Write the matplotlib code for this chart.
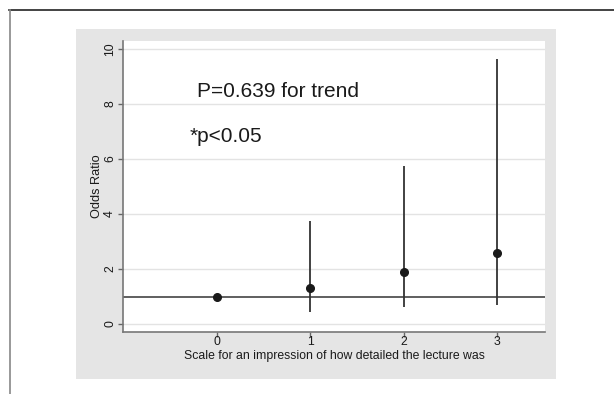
import matplotlib
matplotlib.use("Agg")
import matplotlib.pyplot as plt
from matplotlib.patches import Rectangle
from matplotlib.lines import Line2D

plt.rcParams['font.family'] = ['Liberation Sans', 'DejaVu Sans']

scale = [0, 1, 2, 3]
odds_ratio = [1.0, 1.30, 1.89, 2.58]
ci_low = [1.0, 0.45, 0.63, 0.69]
ci_high = [1.0, 3.76, 5.75, 9.63]
yticks = [0, 2, 4, 6, 8, 10]
xticks = [0, 1, 2, 3]

fig = plt.figure(figsize=(6.14, 3.94), dpi=100)
fig.patch.set_facecolor('white')

# gray Stata-like panel
fig.patches.append(Rectangle((76/614, 1-379/394), 480/614, 350/394,
                             transform=fig.transFigure, facecolor='#e5e5e5',
                             edgecolor='none', zorder=0))
# outer frame lines
fig.lines.append(Line2D([9/614, 1.0], [1-10/394, 1-10/394], transform=fig.transFigure,
                        color='#222222', lw=1.2))
fig.lines.append(Line2D([9.5/614, 9.5/614], [0, 1-10/394], transform=fig.transFigure,
                        color='#888888', lw=1.2))

ax = fig.add_axes([123/614, 1-332/394, 422/614, 291/394])
ax.set_facecolor('white')
ax.set_zorder(1)

ax.set_xlim(-1.0, 3.51)
ax.set_ylim(-0.29, 10.29)

for yv in yticks:
    ax.axhline(yv, color='#e3e3e3', lw=1.0, zorder=1)
ax.axhline(1, color='#444444', lw=1.2, zorder=2)

ax.vlines(scale, ci_low, ci_high, color='#333333', lw=1.3, zorder=3)
ax.plot(scale, odds_ratio, 'o', color='#1a1a1a', ms=5.5, zorder=4)

ax.text(-0.21, 8.44, 'P=0.639 for trend', fontsize=15, va='center', ha='left', color='#1a1a1a')
ax.text(-0.29, 6.8, '*p<0.05', fontsize=15, va='center', ha='left', color='#1a1a1a')

ax.set_xticks(xticks)
ax.set_yticks(yticks)
ax.set_yticklabels([str(v) for v in yticks], rotation=90, va='center')
ax.tick_params(axis='both', colors='#666666', labelcolor='#1a1a1a', labelsize=8.8,
               length=3.5, width=1.0)
ax.tick_params(axis='x', pad=-0.5)
ax.tick_params(axis='y', pad=1.5)
for s in ['top', 'right']:
    ax.spines[s].set_visible(False)
for s in ['left', 'bottom']:
    ax.spines[s].set_color('#777777')
    ax.spines[s].set_linewidth(1.2)

ax.set_ylabel('Odds Ratio', fontsize=9.2, color='#1a1a1a', labelpad=1)
ax.set_xlabel('Scale for an impression of how detailed the lecture was', fontsize=8.8,
              color='#1a1a1a', labelpad=1.5)

fig.savefig('out.png', dpi=100)
